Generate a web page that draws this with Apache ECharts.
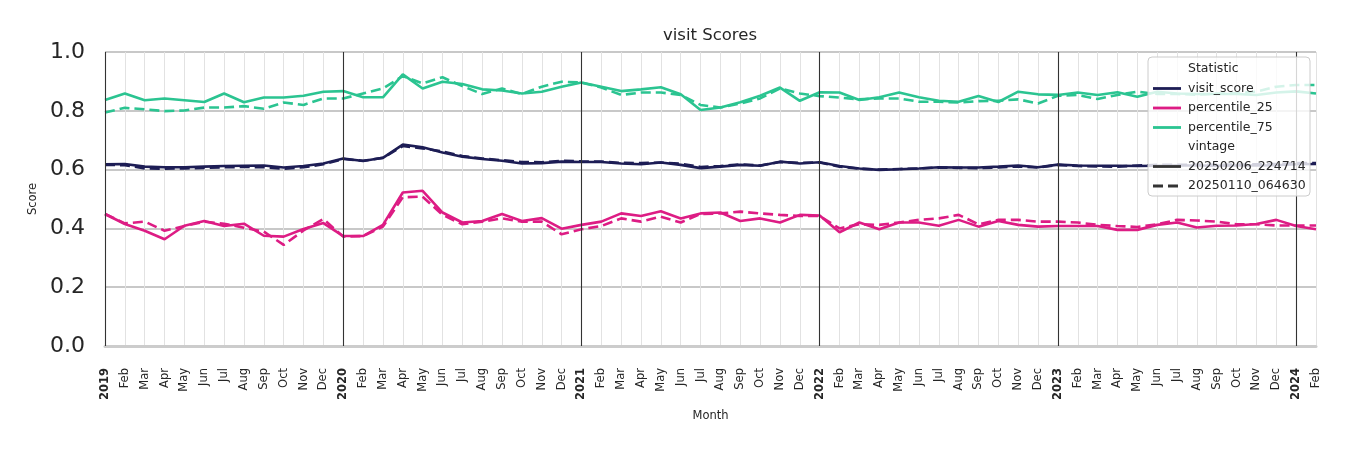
<!DOCTYPE html>
<html>
<head>
<meta charset="utf-8">
<script src="https://cdn.jsdelivr.net/npm/echarts@6/dist/echarts.min.js"></script>
<style>html,body{margin:0;padding:0;background:#fff;}#c{width:1350px;height:450px;}</style>
</head>
<body>
<div id="c"></div>
<script>
const months = (function(){const a=[];for(let y=2019;y<=2024;y++){for(let m=1;m<=12;m++){if(y===2024&&m>2)break;a.push(y+'-'+(m<10?'0'+m:m));}}return a;})();
const monthNames = ['Jan','Feb','Mar','Apr','May','Jun','Jul','Aug','Sep','Oct','Nov','Dec'];
const yearTicks = ['2019-01','2020-01','2021-01','2022-01','2023-01','2024-01'];

const visitScoreA = [0.618,0.619,0.610,0.608,0.608,0.610,0.612,0.613,0.614,0.607,0.612,0.621,
0.638,0.629,0.640,0.685,0.676,0.658,0.644,0.636,0.630,0.621,0.622,0.627,
0.626,0.626,0.621,0.618,0.624,0.616,0.605,0.610,0.616,0.613,0.627,0.621,
0.625,0.612,0.604,0.599,0.601,0.604,0.608,0.607,0.607,0.610,0.614,0.608,
0.617,0.614,0.613,0.613,0.612,0.613,0.614,0.614,0.613,0.614,0.614,0.615,0.618,0.619];
const visitScoreB = [0.616,0.615,0.604,0.603,0.604,0.606,0.608,0.609,0.608,0.603,0.608,0.618,
0.636,0.630,0.640,0.680,0.672,0.662,0.646,0.638,0.632,0.626,0.625,0.630,
0.628,0.627,0.623,0.622,0.624,0.620,0.609,0.612,0.618,0.614,0.626,0.623,
0.624,0.610,0.603,0.600,0.602,0.604,0.607,0.606,0.605,0.607,0.611,0.607,
0.616,0.612,0.611,0.610,0.614,0.616,0.616,0.617,0.616,0.617,0.618,0.619,0.622,0.622];
const p25A = [0.449,0.415,0.392,0.363,0.409,0.425,0.408,0.416,0.375,0.372,0.398,0.418,
0.374,0.374,0.412,0.522,0.528,0.454,0.420,0.425,0.449,0.425,0.435,0.399,
0.412,0.423,0.451,0.442,0.458,0.434,0.451,0.454,0.425,0.434,0.420,0.446,
0.444,0.387,0.420,0.397,0.420,0.420,0.409,0.429,0.406,0.425,0.412,0.406,
0.408,0.408,0.408,0.395,0.395,0.412,0.420,0.403,0.409,0.410,0.415,0.429,0.408,0.397];
const p25B = [0.449,0.417,0.423,0.392,0.408,0.423,0.416,0.402,0.389,0.344,0.393,0.432,
0.372,0.374,0.406,0.506,0.508,0.446,0.414,0.423,0.434,0.423,0.423,0.380,
0.397,0.408,0.434,0.423,0.440,0.420,0.449,0.451,0.457,0.451,0.446,0.442,
0.442,0.400,0.414,0.412,0.420,0.429,0.434,0.446,0.414,0.429,0.429,0.423,
0.423,0.420,0.412,0.408,0.405,0.414,0.429,0.427,0.423,0.414,0.414,0.410,0.410,0.410];
const p75A = [0.837,0.859,0.836,0.842,0.836,0.830,0.859,0.829,0.845,0.845,0.851,0.865,
0.867,0.846,0.846,0.924,0.876,0.899,0.891,0.873,0.869,0.859,0.865,0.882,
0.896,0.882,0.867,0.873,0.880,0.856,0.803,0.811,0.829,0.851,0.879,0.834,
0.863,0.862,0.837,0.846,0.862,0.846,0.834,0.831,0.850,0.830,0.865,0.856,
0.854,0.862,0.854,0.863,0.848,0.865,0.859,0.857,0.857,0.857,0.854,0.862,0.866,0.859];
const p75B = [0.794,0.810,0.805,0.799,0.801,0.811,0.811,0.816,0.807,0.828,0.820,0.842,
0.842,0.859,0.876,0.918,0.893,0.914,0.884,0.857,0.876,0.857,0.882,0.899,
0.896,0.879,0.854,0.862,0.862,0.854,0.820,0.811,0.825,0.842,0.876,0.859,
0.850,0.845,0.839,0.842,0.842,0.831,0.831,0.828,0.833,0.834,0.839,0.825,
0.851,0.854,0.840,0.854,0.865,0.857,0.857,0.855,0.858,0.860,0.865,0.882,0.888,0.888];

const statNames = ['visit_score','percentile_25','percentile_75'];
const vintages = ['20250206_224714','20250110_064630'];
const colors = {visit_score:'#1d1d55', percentile_25:'#dd1c84', percentile_75:'#2bc491'};
const dashPattern = [10,5];

const chart = echarts.init(document.getElementById('c'), null, {renderer:'canvas'});
function mk(name, data, stat, dashed, withMark){
  const s = {name:name, type:'line', data:data, showSymbol:false, symbol:'none', smooth:false,
    lineStyle:{color:colors[stat], width:2.6, type: dashed?dashPattern:'solid'},
    itemStyle:{color:colors[stat]}, z:3, animation:false};
  if(withMark){
    s.markLine = {silent:true, symbol:'none', animation:false, label:{show:false},
      lineStyle:{color:'#333333', width:1.1, type:'solid'},
      data: yearTicks.map(t=>({xAxis:t}))};
  }
  return s;
}
const txt = '#262626';
const lgX = 1148, lgY = 57;
const rowH = 19.5;
const legendItems = [
  {t:'Statistic'},
  {t:'visit_score', c:colors.visit_score},
  {t:'percentile_25', c:colors.percentile_25},
  {t:'percentile_75', c:colors.percentile_75},
  {t:'vintage'},
  {t:'20250206_224714', c:'#333333'},
  {t:'20250110_064630', c:'#333333', d:true}
];
const graphics = [{type:'rect', z:100, shape:{x:lgX, y:lgY, width:162, height:139, r:4},
  style:{fill:'rgba(255,255,255,0.8)', stroke:'#cccccc', lineWidth:1}}];
legendItems.forEach((it,i)=>{
  const cy = lgY + 12 + i*rowH;
  graphics.push({type:'text', z:101, x: lgX+40, y: cy, style:{text:it.t, fill:txt, font:'12.5px "DejaVu Sans"', textVerticalAlign:'middle', verticalAlign:'middle'}});
  if(it.c){
    graphics.push({type:'line', z:101, shape:{x1:lgX+5, y1:cy, x2:lgX+33, y2:cy},
      style:{stroke:it.c, lineWidth:2.8, lineDash: it.d?[10,5]:null}});
  }
});

chart.setOption({
  animation:false,
  backgroundColor:'#ffffff',
  title:{text:'visit Scores', left:705, top:22, textAlign:'center',
    textStyle:{fontSize:16.5, fontWeight:'normal', color:txt, fontFamily:'DejaVu Sans'}},
  grid:{left:105, right:34, top:52, bottom:104, containLabel:false},
  xAxis:{type:'category', data:months, boundaryGap:false,
    name:'Month', nameLocation:'middle', nameGap:64,
    nameTextStyle:{fontSize:11.5, color:txt, fontFamily:'DejaVu Sans'},
    axisLine:{show:true, lineStyle:{color:'#cccccc', width:3}},
    axisTick:{show:false},
    axisLabel:{interval:0, rotate:90, margin:22, fontSize:11.5, color:txt, fontFamily:'DejaVu Sans',
      formatter:function(v){const p=v.split('-'); const m=parseInt(p[1],10); return m===1?'{y|'+p[0]+'}':monthNames[m-1];},
      rich:{y:{fontWeight:'bold', fontSize:11.5, color:txt, fontFamily:'DejaVu Sans'}}},
    splitLine:{show:true, interval:0, lineStyle:{color:'#e2e2e2', width:1}}
  },
  yAxis:{type:'value', min:0, max:1, interval:0.2,
    name:'Score', nameLocation:'middle', nameGap:65, nameRotate:90,
    nameTextStyle:{fontSize:11.5, color:txt, fontFamily:'DejaVu Sans'},
    axisLine:{show:false}, axisTick:{show:false},
    axisLabel:{fontSize:22, color:txt, margin:20, fontFamily:'DejaVu Sans', formatter:v=>v.toFixed(1)},
    splitLine:{show:true, lineStyle:{color:'#c8c8c8', width:1.8}}
  },
  series:[
    mk('visit_score|'+vintages[0], visitScoreA, 'visit_score', false, true),
    mk('percentile_25|'+vintages[0], p25A, 'percentile_25', false),
    mk('percentile_75|'+vintages[0], p75A, 'percentile_75', false),
    mk('visit_score|'+vintages[1], visitScoreB, 'visit_score', true),
    mk('percentile_25|'+vintages[1], p25B, 'percentile_25', true),
    mk('percentile_75|'+vintages[1], p75B, 'percentile_75', true)
  ],
  graphic: graphics
});
</script>
</body>
</html>
